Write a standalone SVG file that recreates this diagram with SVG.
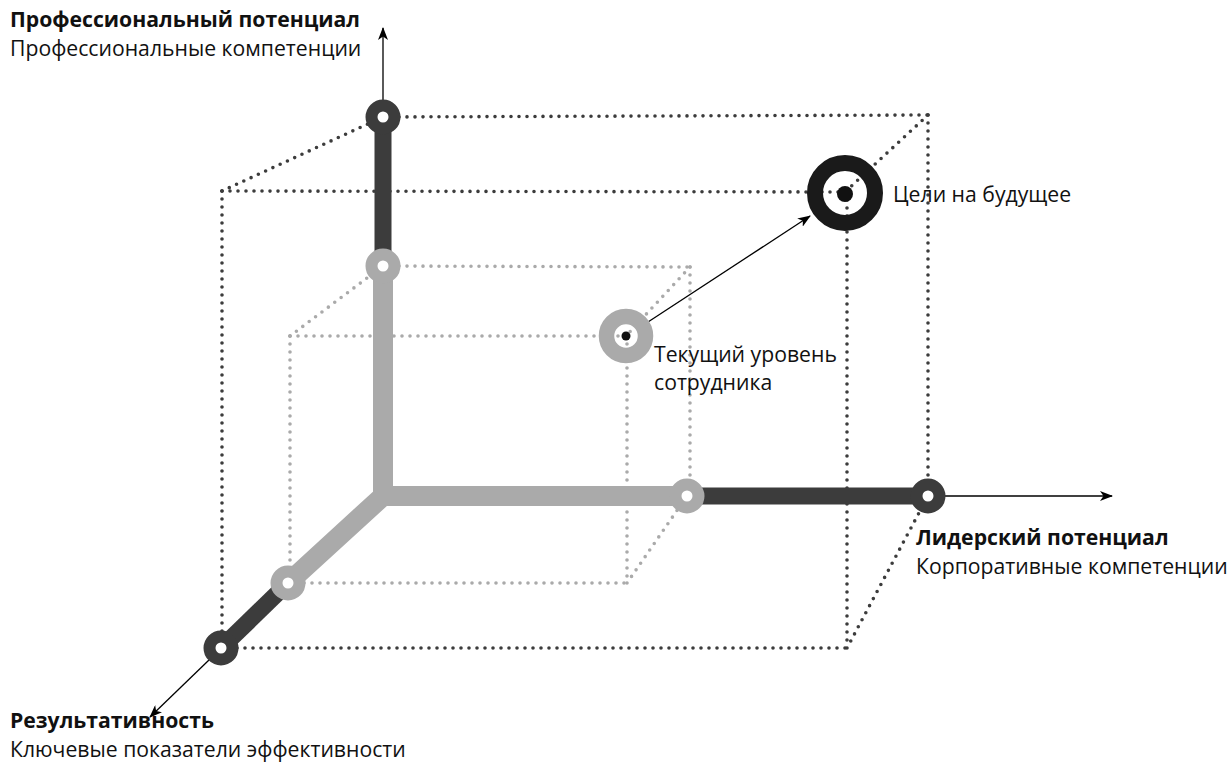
<svg xmlns="http://www.w3.org/2000/svg" width="1230" height="769" viewBox="0 0 1230 769">
<style>
.bg{fill:#ffffff}
.dd{stroke:#3c3c3c;stroke-width:3.6;stroke-dasharray:0 8;stroke-linecap:round;fill:none}
.dg{stroke:#aaaaaa;stroke-width:3.6;stroke-dasharray:0 8;stroke-linecap:round;fill:none}
.barG{stroke:#aaaaaa;stroke-width:20;fill:none;stroke-linejoin:miter}
.barD{stroke:#3c3c3c;stroke-width:17;fill:none}
.nodeD{fill:#ffffff;stroke:#3c3c3c;stroke-width:12}
.nodeG{fill:#ffffff;stroke:#aaaaaa;stroke-width:12}
.arr{stroke:#000;stroke-width:1.3;fill:none;marker-end:url(#ah)}
.t{font-family:"Open Sans","Noto Sans","Liberation Sans",sans-serif;font-size:21.2px;fill:#111}
.b{font-weight:bold}
</style>
<defs>
<marker id="ah" markerUnits="userSpaceOnUse" markerWidth="14" markerHeight="10" refX="12" refY="5" orient="auto" viewBox="0 0 14 10">
<path d="M0,0 L13,5 L0,10 L3.5,5 z" fill="#000"/>
</marker>
</defs>
<rect class="bg" x="0" y="0" width="1230" height="769"/>
<g id="connectors">
<g id="outer-box">
<line class="dd" x1="383" y1="117" x2="928" y2="115"/>
<line class="dd" x1="928" y1="115" x2="928" y2="496"/>
<line class="dd" x1="928" y1="115" x2="845" y2="192"/>
<line class="dd" x1="222" y1="191" x2="845" y2="192"/>
<line class="dd" x1="222" y1="191" x2="383" y2="117"/>
<line class="dd" x1="222" y1="191" x2="222" y2="648"/>
<line class="dd" x1="221" y1="648" x2="847" y2="648"/>
<line class="dd" x1="847" y1="192" x2="847" y2="648"/>
<line class="dd" x1="847" y1="648" x2="928" y2="496"/>
</g>
<g id="inner-box">
<line class="dg" x1="383" y1="266" x2="690" y2="267"/>
<line class="dg" x1="690" y1="267" x2="690" y2="496"/>
<line class="dg" x1="690" y1="267" x2="626" y2="336"/>
<line class="dg" x1="290" y1="336" x2="626" y2="336"/>
<line class="dg" x1="290" y1="336" x2="383" y2="266"/>
<line class="dg" x1="290" y1="336" x2="290" y2="583"/>
<line class="dg" x1="288" y1="583" x2="627" y2="583"/>
<line class="dg" x1="627" y1="336" x2="627" y2="583"/>
<line class="dg" x1="627" y1="583" x2="687" y2="496"/>
</g>
<g id="axes">
<polyline class="barG" points="383,266 383,496 288,583"/>
<line class="barG" x1="383" y1="496" x2="687" y2="496"/>
<line class="barD" x1="383" y1="266" x2="383" y2="117"/>
<line class="barD" x1="687" y1="496" x2="928" y2="496"/>
<line class="barD" x1="288" y1="583" x2="221" y2="648"/>
<line class="arr" x1="383" y1="100" x2="383" y2="28"/>
<line class="arr" x1="945" y1="496" x2="1112" y2="496"/>
<line class="arr" x1="209" y1="660" x2="150" y2="717"/>
<line class="arr" x1="648" y1="322" x2="810" y2="216"/>
</g>
</g>
<g id="node-prof-dark"><circle class="nodeD" cx="383" cy="117" r="11.5"/></g>
<g id="node-prof-gray"><circle class="nodeG" cx="383" cy="266" r="11.5"/></g>
<g id="node-lead-gray"><circle class="nodeG" cx="687" cy="496" r="11.5"/></g>
<g id="node-lead-dark"><circle class="nodeD" cx="928" cy="496" r="11.5"/></g>
<g id="node-res-gray"><circle class="nodeG" cx="288" cy="583" r="11.5"/></g>
<g id="node-res-dark"><circle class="nodeD" cx="221" cy="648" r="11.5"/></g>
<g id="node-current">
<circle cx="626" cy="336" r="19.5" fill="none" stroke="#aaaaaa" stroke-width="15.5"/>
<circle cx="626" cy="336" r="4.5" fill="#111"/>
<text class="t" x="654" y="362">Текущий уровень</text>
<text class="t" x="654" y="390">сотрудника</text>
</g>
<g id="node-target">
<circle cx="845" cy="193" r="30" fill="none" stroke="#1a1a1a" stroke-width="16"/>
<circle cx="845" cy="194" r="8" fill="#111"/>
<text class="t" x="893" y="202">Цели на будущее</text>
</g>
<g id="label-prof">
<text class="t b" x="10" y="27">Профессиональный потенциал</text>
<text class="t" x="10" y="56">Профессиональные компетенции</text>
</g>
<g id="label-lead">
<text class="t b" x="916" y="545">Лидерский потенциал</text>
<text class="t" x="916" y="574">Корпоративные компетенции</text>
</g>
<g id="label-res">
<text class="t b" x="10" y="728">Результативность</text>
<text class="t" x="10" y="757">Ключевые показатели эффективности</text>
</g>
</svg>
